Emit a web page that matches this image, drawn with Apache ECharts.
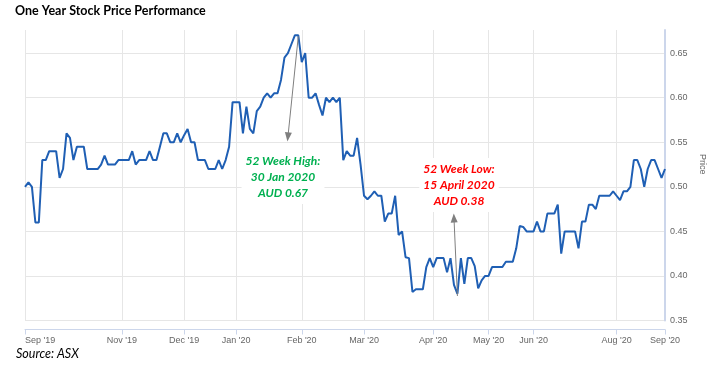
<!DOCTYPE html>
<html>
<head>
<meta charset="utf-8">
<title>One Year Stock Price Performance</title>
<script src="https://cdn.jsdelivr.net/npm/echarts@6/dist/echarts.min.js"></script>
<style>
  html, body { margin: 0; padding: 0; background: #fff; }
  #myChart { width: 716px; height: 375px; }
</style>
</head>
<body>
<div id="myChart"></div>
<script>
// closing prices, one per trading point
const prices = [
  0.50, 0.505, 0.50, 0.46, 0.46, 0.53, 0.53, 0.54, 0.54, 0.54,
  0.51, 0.52, 0.56, 0.555, 0.53, 0.545, 0.545, 0.545, 0.52, 0.52,
  0.52, 0.52, 0.525, 0.535, 0.525, 0.525, 0.525, 0.53, 0.53, 0.53,
  0.53, 0.54, 0.525, 0.53, 0.53, 0.53, 0.54, 0.53, 0.53, 0.545,
  0.56, 0.56, 0.55, 0.55, 0.56, 0.55, 0.558, 0.565, 0.55, 0.55,
  0.53, 0.53, 0.53, 0.52, 0.52, 0.52, 0.53, 0.52, 0.53, 0.545,
  0.595, 0.595, 0.595, 0.56, 0.59, 0.565, 0.56, 0.585, 0.59, 0.60,
  0.605, 0.60, 0.605, 0.605, 0.62, 0.645, 0.65, 0.66, 0.67, 0.67,
  0.64, 0.65, 0.60, 0.60, 0.605, 0.592, 0.58, 0.60, 0.595, 0.60,
  0.595, 0.60, 0.53, 0.54, 0.535, 0.535, 0.555, 0.525, 0.49, 0.486,
  0.49, 0.495, 0.49, 0.49, 0.461, 0.47, 0.47, 0.49, 0.446, 0.45,
  0.421, 0.42, 0.382, 0.385, 0.385, 0.385, 0.41, 0.42, 0.41, 0.42,
  0.42, 0.42, 0.404, 0.42, 0.39, 0.38, 0.42, 0.391, 0.42, 0.42,
  0.411, 0.386, 0.395, 0.40, 0.40, 0.41, 0.41, 0.41, 0.41, 0.416,
  0.416, 0.416, 0.431, 0.456, 0.455, 0.45, 0.45, 0.45, 0.461, 0.45,
  0.45, 0.47, 0.47, 0.47, 0.48, 0.425, 0.45, 0.45, 0.45, 0.45,
  0.431, 0.461, 0.461, 0.48, 0.48, 0.475, 0.49, 0.49, 0.49, 0.49,
  0.495, 0.49, 0.485, 0.495, 0.495, 0.50, 0.53, 0.53, 0.52, 0.50,
  0.52, 0.53, 0.53, 0.52, 0.51, 0.52
]

// month ticks: point index where each month label sits
const tickIdx = [0, 28, 46, 61, 80, 98, 118, 134, 147, 171, 185]
const tickLabels = ["Sep '19", "Nov '19", "Dec '19", "Jan '20", "Feb '20", "Mar '20",
  "Apr '20", "May '20", "Jun '20", "Aug '20", "Sep '20"]

// arrows: [index, price] start -> end
const highArrow = [[78.5, 0.669], [76.4, 0.556]]
const lowArrow = [[124.7, 0.3775], [123.65, 0.465]]

let cats = prices.map(() => '')
tickIdx.forEach((idx, k) => { cats[idx] = tickLabels[k] })
const isTick = (i) => tickIdx.indexOf(i) !== -1

let myChart = echarts.init(document.getElementById('myChart'))
myChart.setOption({
  animation: false,
  title: [
    {
      text: 'One Year Stock Price Performance',
      left: 15,
      top: 4,
      padding: 0,
      textStyle: { fontFamily: 'Lato', fontSize: 12.5, fontWeight: 'bold', color: '#000' },
    },
    {
      text: 'Source: ASX',
      left: 16,
      top: 347,
      padding: 0,
      textStyle: { fontFamily: 'Lato', fontSize: 12.5, fontStyle: 'italic', fontWeight: 'normal', color: '#000' },
    },
  ],
  grid: { left: 25, right: 51, top: 30, bottom: 54.5 },
  xAxis: {
    type: 'category',
    boundaryGap: false,
    data: cats,
    offset: 9,
    axisLine: { lineStyle: { color: '#ccd6eb', width: 1 } },
    axisTick: { interval: (i) => isTick(i), length: 5, lineStyle: { color: '#ccd6eb' } },
    axisLabel: {
      interval: (i) => isTick(i),
      alignMinLabel: 'left',
      color: '#666',
      fontFamily: 'Liberation Sans',
      fontSize: 9,
      margin: 7,
    },
    splitLine: { show: true, interval: (i) => isTick(i), lineStyle: { color: '#e6e6e6' } },
  },
  yAxis: {
    type: 'value',
    position: 'right',
    min: 0.35,
    max: 0.676,
    interval: 0.05,
    name: 'Price',
    nameLocation: 'middle',
    nameRotate: -90,
    nameGap: 29,
    nameTextStyle: { color: '#666', fontFamily: 'Liberation Sans', fontSize: 9, padding: [0, 22, 0, 0] },
    axisLine: { show: true, lineStyle: { color: '#ccd6eb', width: 2 } },
    axisTick: { show: false },
    axisLabel: {
      showMaxLabel: false,
      color: '#666',
      fontFamily: 'Liberation Sans',
      fontSize: 9,
      margin: 5,
      padding: [0, 0, 8, 0],
      formatter: (v) => v.toFixed(2),
    },
    splitLine: { show: true, showMaxLine: false, lineStyle: { color: '#e6e6e6' } },
  },
  series: [
    {
      type: 'line',
      data: prices,
      symbol: 'none',
      lineStyle: { color: '#1f5fb4', width: 2 },
      markLine: {
        silent: true,
        symbol: ['none', 'triangle'],
        symbolSize: [7, 9],
        label: { show: false },
        lineStyle: { color: '#7f7f7f', width: 1, type: 'solid' },
        data: [
          [{ coord: highArrow[0] }, { coord: highArrow[1] }],
          [{ coord: lowArrow[0] }, { coord: lowArrow[1] }],
        ],
      },
    },
  ],
  graphic: [
    {
      type: 'text',
      x: 283,
      y: 177,
      z: 100,
      style: {
        text: '52 Week High:\n30 Jan 2020\nAUD 0.67',
        align: 'center',
        verticalAlign: 'middle',
        lineHeight: 16,
        font: 'italic bold 12px Lato',
        fill: '#00b050',
        backgroundColor: '#fff',
        padding: [3, 4, 3, 4],
      },
    },
    {
      type: 'text',
      x: 459,
      y: 185,
      z: 100,
      style: {
        text: '52 Week Low:\n15 April 2020\nAUD 0.38',
        align: 'center',
        verticalAlign: 'middle',
        lineHeight: 16,
        font: 'italic bold 12px Lato',
        fill: '#ff0000',
        backgroundColor: '#fff',
        padding: [3, 4, 3, 4],
      },
    },
  ],
})
</script>
</body>
</html>
